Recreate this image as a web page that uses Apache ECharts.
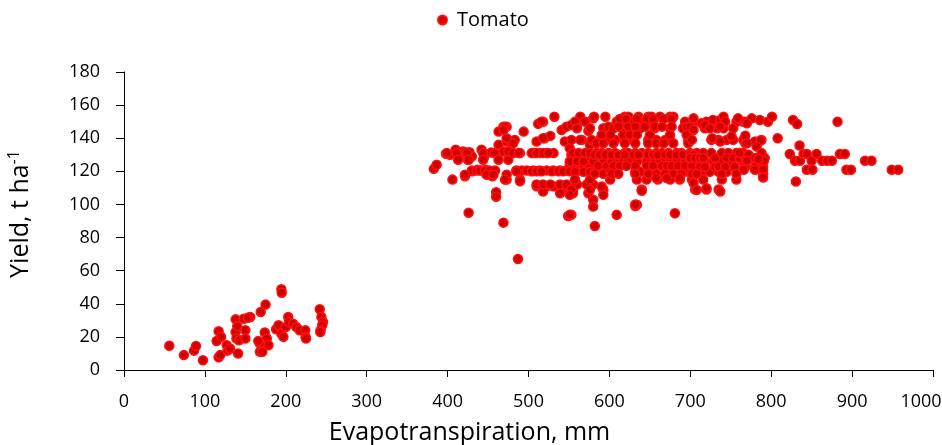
<!DOCTYPE html>
<html>
<head>
<meta charset="utf-8">
<script src="https://cdn.jsdelivr.net/npm/echarts@6/dist/echarts.min.js"></script>
<style>
html,body{margin:0;padding:0;background:#fff;}
#chart{width:942px;height:445px;}
</style>
</head>
<body>
<div id="chart"></div>
<script>
const seriesName = 'Tomato';
const xTitle = 'Evapotranspiration, mm';
const yTitleMain = 'Yield, t ha';
const yTitleSup = '-1';
const xTicks = [0, 1000, 100];
const yTicks = [0, 180, 20];

// [ET (mm), yield (t/ha)] – low-yield group
const lowGroup = [
[56,14.7],[74,9],[86.5,11.7],[89,14.5],[97.6,5.9],[114.5,17.5],[117,23.4],[117,7.7],[119,9],[120,20],
[127,15],[128,11.7],[131,13],[138,30.6],[138,23],[139,19],[140,26.5],[141,10],[142,18],[148,31],
[150,24],[150,19],[156,32],[153,31.5],[169,35],[175,39.5],[168,16],[168,11],[171,11],[171,16.5],
[174,22.6],[176.5,19],[178.5,15],[166,17.5],[188,24.6],[191,27],[194.5,48.8],[195,46.7],[194.5,22],[197,20],
[200,26],[203,32],[204,29],[209,28],[213,26],[217,24],[224,24],[224.5,20],[225,19],[242,36.7],
[244,32],[246,29],[245,27],[243,24],[242.6,23]
];

// high-yield group, ET 380–600 mm
const highGroupA = [
[383,121.5],[386.5,124],[398,130.6],[403,130],[410,133],[413,128.4],[419,132],[422,131.6],[425,127],[427,131.6],
[430,129],[442,133],[445,128.5],[454,131.4],[458,131],[463,144],[469,147],[463,136],[463,127],[406,115],
[421.5,117],[430.5,120],[437,121],[442,120.5],[447,121],[450,118],[455.5,117],[460,107.4],[460,104.7],[426,95],
[469,89],[487,67],[473,147],[494,144],[512,148.7],[518,150],[532,153],[473,138],[479,137],[483,139],
[510,138],[520,140],[527,141.4],[541,145],[547,147],[553,148],[559,150],[399,131],[411,131],[424,131],
[444,131],[479,131],[489.5,131],[506,131],[514,131],[522,131],[531,131],[413,127],[426,127],[444,127],
[475,127],[430,120.5],[436,120.5],[440,120.5],[446,120.5],[452,120.5],[458.6,120.5],[485,120.5],[492,120.5],[498,120.5],
[506,120.5],[514,120.5],[522.5,120.5],[530.6,120.5],[539,120.5],[547,120.5],[421.5,118],[448,118],[456.6,118],[473,115],
[489.5,115],[510,111],[522.5,111],[530.6,111],[541,111],[555,111],[518,107.8],[541,107.8],[555,107.8],[549,93],
[553,93.7],[471,147],[469,145],[516,150],[564,150.6],[574,144.5],[580,152],[518,140],[481,137],[473,140],
[545,138],[566,139],[576,136],[469,132],[475,132],[481,131],[488,131],[504,131],[510,131],[518,131],
[524.5,131],[551,134],[553,130],[560,128],[568,130],[574,126],[582,128],[551,124],[560,123],[568,122],
[576,123],[485,120],[504,120],[510,120],[516,120],[529,120],[537,120],[543,120],[551,120],[560,120],
[473,118],[471,115],[489.5,114],[510,112],[518,112],[527,112],[539,112],[547,112],[560,112],[572,112],
[580,112],[539,106.8],[555,106.8],[574,106.8],[580,102.8],[564,153],[581,153],[595,153],[557.5,150],[570,150],
[560,146],[576,146],[592.5,146],[553,139],[564,139],[578,139],[588,139],[595,139],[555,131],[562,131],
[570,131],[576,131],[584,131],[590.5,131],[599,131],[551,126],[560,126],[568,126],[580,126],[592.5,126],
[557.5,119.7],[568,119.7],[576,119.7],[582,119.7],[595,119.7],[557.5,115],[576,115],[553,109],[576,109],[592.5,109],
[551,105.8],[592.5,105.8],[580,98.7],[551,93.7],[582,87],[584,137],[592.5,137],[582,130],[588,130],[595,130],
[586,123.3],[597,123.3],[582,118.5],[592.5,118.5],[590.5,110.8],[590.5,142],[599,147]
];

// high-yield group, ET 600–960 mm
const highGroupB = [
[619,153],[623.5,153],[636,153],[648,153],[652,153],[662.5,153],[675,153],[679,153],[609,150],[613,150],
[628,150],[640,150],[654,150],[693.5,150],[704,150],[720,150],[728,150],[739,150],[757,150],[765.5,150],
[605,146],[617,146],[630,146],[638,146],[656,146],[675,146],[691,146],[699.5,146],[718,146],[733,146],
[741,146],[753,146],[607,139],[619,139],[630,139],[648,139],[658,139],[669,139],[675,139],[697.5,139],
[726,139],[735,139],[745,139],[753,139],[765.5,139],[607,131],[619,131],[623,131],[632,131],[640,131],
[648,131],[658,131],[665,131],[673,131],[683,131],[689,131],[699.5,131],[708,131],[716,131],[726,131],
[739,131],[747,131],[757,131],[765.5,131],[603,126],[613,126],[623,126],[634,126],[646,126],[656,126],
[662.5,126],[669,126],[675,126],[683,126],[693.5,126],[704,126],[710,126],[718,126],[728.5,126],[739,126],
[749,126],[765.5,126],[601,119.7],[609,119.7],[632,119.7],[638,119.7],[650,119.7],[660,119.7],[669,119.7],[679,119.7],
[689,119.7],[697.5,119.7],[704,119.7],[716,119.7],[724,119.7],[735,119.7],[745,119.7],[601,115],[634,115],[646,115],
[660,115],[675,115],[687,115],[702,115],[716,115],[739,115],[757,115],[640,109],[706,109],[720,109],
[735,109],[632,99],[634,99.8],[609,93.7],[681,94.7],[613,151.6],[621,151.6],[634,151.6],[646,151.6],[654,151.6],
[667,151.6],[677,151.6],[611,147],[623,147],[632,147],[644,147],[656,147],[665,147],[677,147],[695.5,147],
[700,147],[601,142],[617,142],[625,142],[634,142],[650,142],[675,142],[695.5,142],[605,137],[619,137],
[632,137],[648,137],[658,137],[667,137],[679,137],[697.5,137],[603,130],[611,130],[619,130],[630,130],
[636,130],[648,130],[654,130],[660,130],[669,130],[675,130],[683,130],[691,130],[700,130],[704,130],
[605,123.3],[613,123.3],[621,123.3],[632,123.3],[646,123.3],[654,123.3],[665,123.3],[671,123.3],[677,123.3],[685,123.3],
[693.5,123.3],[702,123.3],[603,118.5],[611,118.5],[632,118.5],[648,118.5],[658,118.5],[669,118.5],[679,118.5],[689,118.5],
[702,118.5],[658,115.9],[671,115.9],[687,115.9],[640,108.2],[632,100],[704,152],[714,149],[718,148],[728,151],
[737,151],[741,153],[743,150],[704,145],[724,146],[737,147],[759,152],[768,150],[776,152],[786,151],
[796,150],[801,153],[808,140],[727,140],[737,138],[751,141],[768,137],[780,138],[788,139],[702,139],
[700,128],[706,128],[712,128],[716,128],[730.5,128],[745,128],[753,128],[761,128],[768,128],[774,128],
[782,128],[786,128],[792,128],[712,122.7],[718,122.7],[730.5,122.7],[735,122.7],[743,122.7],[755,122.7],[768,122.7],
[780,122.7],[790,122.7],[708,118.5],[739,118.5],[757,118.5],[790,118.5],[704,113],[708,108.8],[720,109.8],[737,107.8],
[770,149],[827,151],[832,148.6],[882,150],[768,141.5],[770,137],[787,138.6],[782,135],[835,135.6],[761,131],
[772,130],[780,128],[788,131],[791,126.4],[770,126.4],[784,127.4],[823,130.5],[829.5,126.4],[835.6,126.4],[840,130.5],
[844,130.5],[850,126.4],[856,130.5],[863,126.4],[869,126.4],[875,126.4],[885,130.5],[891,130.5],[916,126.4],[924,126.4],
[766,121],[780,121],[790,121],[790,116.3],[844,121],[851,121],[893,121],[898.6,121],[949,121],[957,121],
[830.5,113.9]
];

const FONT = 'Open Sans';
const chart = echarts.init(document.getElementById('chart'), null, {renderer: 'canvas'});
chart.setOption({
  animation: false,
  backgroundColor: '#ffffff',
  textStyle: {fontFamily: FONT},
  legend: {
    top: 5,
    left: 432,
    itemWidth: 9,
    itemHeight: 9,
    itemGap: 10,
    icon: 'circle',
    textStyle: {fontFamily: FONT, fontSize: 20, color: '#000', padding: [0, 0, 0, 5]},
    data: [seriesName]
  },
  grid: {left: 124, right: 9, top: 72, bottom: 75, containLabel: false, outerBoundsMode: 'none'},
  xAxis: {
    type: 'value',
    min: xTicks[0], max: xTicks[1], interval: xTicks[2],
    name: xTitle,
    nameLocation: 'middle',
    nameGap: 50,
    nameTextStyle: {fontFamily: FONT, fontSize: 25, color: '#000', padding: [0, 118, 0, 0]},
    axisLine: {show: true, lineStyle: {color: '#000', width: 1}},
    axisTick: {show: true, inside: false, length: 7, lineStyle: {color: '#000'}},
    axisLabel: {
      fontFamily: FONT, fontSize: 18, color: '#000', margin: 23,
      formatter: v => (v === xTicks[1] ? '{last|' + v + '}' : String(v)),
      rich: {last: {fontFamily: FONT, fontSize: 18, color: '#000', padding: [0, 24, 0, 0]}}
    },
    splitLine: {show: false}
  },
  yAxis: {
    type: 'value',
    min: yTicks[0], max: yTicks[1], interval: yTicks[2],
    name: '{n|' + yTitleMain + '}{s|' + yTitleSup + '}',
    nameLocation: 'middle',
    nameGap: 88,
    nameRotate: 90,
    nameTextStyle: {
      fontFamily: FONT, color: '#000', padding: [0, 0, 0, 14],
      rich: {
        n: {fontFamily: FONT, fontSize: 25, color: '#000', lineHeight: 30},
        s: {fontFamily: FONT, fontSize: 16, color: '#000', verticalAlign: 'top', lineHeight: 18}
      }
    },
    axisLine: {show: true, lineStyle: {color: '#000', width: 1}},
    axisTick: {show: true, inside: false, length: 8, lineStyle: {color: '#000'}},
    axisLabel: {fontFamily: FONT, fontSize: 18, color: '#000', margin: 24, formatter: v => String(v)},
    splitLine: {show: false}
  },
  series: [{
    name: seriesName,
    type: 'scatter',
    symbol: 'circle',
    symbolSize: 9,
    itemStyle: {color: '#d00000', borderColor: '#ff1010', borderWidth: 1.5, opacity: 1},
    data: lowGroup.concat(highGroupA, highGroupB)
  }]
});
</script>
</body>
</html>
